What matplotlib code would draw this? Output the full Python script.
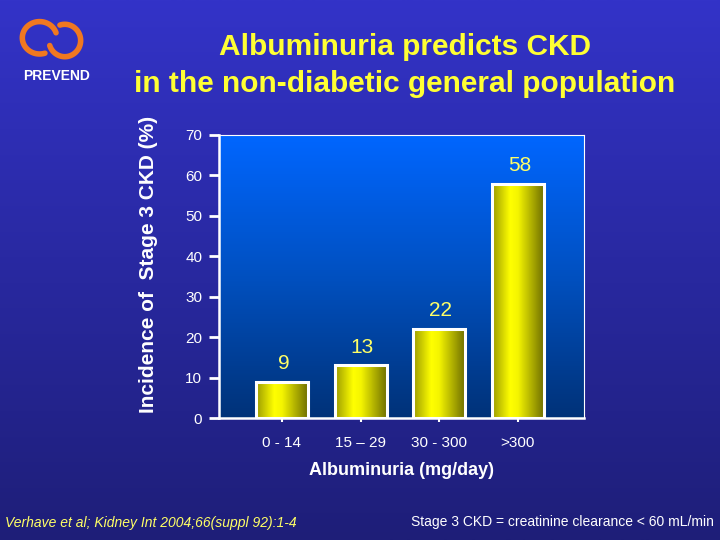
import numpy as np
import matplotlib
matplotlib.use("Agg")
from matplotlib import pyplot as plt
from matplotlib.colors import LinearSegmentedColormap

plt.rcParams['font.family'] = ['Liberation Sans', 'DejaVu Sans']

# data
categories = ['0 - 14', '15 \u2013 29', '30 - 300', '>300']
incidence = [9, 13, 22, 58]
yticks = [0, 10, 20, 30, 40, 50, 60, 70]

fig = plt.figure(figsize=(7.2, 5.4), dpi=100)

# slide background gradient
bg = fig.add_axes([0, 0, 1, 1])
bg_cmap = LinearSegmentedColormap.from_list('bg', ['#1e1e78', '#3333c8'])
grad = np.linspace(0, 1, 256).reshape(-1, 1)
bg.imshow(grad, cmap=bg_cmap, aspect='auto', extent=[0, 1, 0, 1], origin='lower')
bg.set_xlim(0, 1)
bg.set_ylim(0, 1)
bg.axis('off')

# logo (rough orange loops)
t = np.linspace(0, 1, 100)
lx = 0.055 + 0.024 * np.cos(2 * np.pi * (0.05 + 0.75 * t))
ly = 0.93 + 0.03 * np.sin(2 * np.pi * (0.05 + 0.75 * t))
bg.plot(lx, ly, color='#f07820', lw=4, solid_capstyle='round')
rx = 0.09 + 0.022 * np.cos(2 * np.pi * (0.55 + 0.75 * t))
ry = 0.925 + 0.03 * np.sin(2 * np.pi * (0.55 + 0.75 * t))
bg.plot(rx, ry, color='#f07820', lw=4, solid_capstyle='round')

fig.text(0.079, 0.859, 'PREVEND', color='white', fontsize=10, fontweight='bold',
         ha='center', va='center')
fig.text(0.562, 0.913, 'Albuminuria predicts CKD', color='#ffff33', fontsize=21.5,
         fontweight='bold', ha='center', va='center')
fig.text(0.562, 0.845, 'in the non-diabetic general population', color='#ffff33',
         fontsize=21.5, fontweight='bold', ha='center', va='center')

# plot area
ax = fig.add_axes([219 / 720, 1 - 418 / 540, 365 / 720, 283 / 540])
x = np.arange(len(categories))
ax.set_xlim(-0.8, 3.84)
ax.set_ylim(0, 70)
pa_cmap = LinearSegmentedColormap.from_list('pa', ['#003278', '#0050c0', '#0066ff'])
ax.imshow(grad, cmap=pa_cmap, aspect='auto', extent=[-0.8, 3.84, 0, 70],
          origin='lower', zorder=0)

bar_cmap = LinearSegmentedColormap.from_list(
    'bar', [(0, '#9a9a00'), (0.35, '#ffff00'), (0.5, '#f5f500'), (1, '#707000')])
hgrad = np.linspace(0, 1, 256).reshape(1, -1)
w = 0.66
bars = ax.bar(x, incidence, width=w, facecolor='none', edgecolor='white',
              linewidth=2.2, zorder=3)
for xi, v in zip(x, incidence):
    ax.imshow(hgrad, cmap=bar_cmap, aspect='auto', origin='lower',
              extent=[xi - w / 2, xi + w / 2, 0, v], zorder=2)
    ax.text(xi + 0.02, v + 4.5, str(v), color='#ffff66', fontsize=15,
            ha='center', va='center', zorder=4)

ax.set_xlim(-0.8, 3.84)
ax.set_ylim(0, 70)
ax.set_yticks(yticks)
ax.set_yticklabels([str(v) for v in yticks], color='white', fontsize=11)
ax.set_xticks(x)
ax.set_xticklabels(categories, color='white', fontsize=11)
ax.tick_params(axis='y', colors='white', length=7, width=2, direction='out', pad=5,
               labelcolor='white')
ax.tick_params(axis='x', colors='white', length=3, width=1.5, direction='out', pad=10,
               labelcolor='white')
for s in ['top', 'right']:
    ax.spines[s].set_color('white')
    ax.spines[s].set_linewidth(0.8)
for s in ['left', 'bottom']:
    ax.spines[s].set_color('white')
    ax.spines[s].set_linewidth(1.8)

fig.text(0.206, 0.51, 'Incidence of  Stage 3 CKD (%)', color='white', fontsize=15,
         fontweight='bold', rotation=90, ha='center', va='center')
fig.text(0.558, 0.128, 'Albuminuria (mg/day)', color='white', fontsize=13,
         fontweight='bold', ha='center', va='center')

fig.text(0.007, 0.031, 'Verhave et al; Kidney Int 2004;66(suppl 92):1-4', color='#ffff66',
         fontsize=10, style='italic', ha='left', va='center')
fig.text(0.991, 0.033, 'Stage 3 CKD = creatinine clearance < 60 mL/min', color='white',
         fontsize=10, ha='right', va='center')

fig.savefig('out.png', dpi=100)
